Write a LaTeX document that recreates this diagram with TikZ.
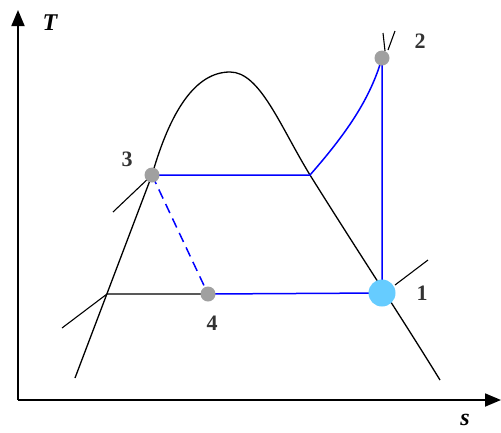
\documentclass[tikz,border=0pt]{standalone}
\usepackage{fontspec}
\setmainfont{Liberation Serif}
\usetikzlibrary{arrows.meta}
\definecolor{cycleblue}{HTML}{0000FF}
\definecolor{stategray}{HTML}{A0A0A0}
\definecolor{stateblue}{HTML}{66CCFF}
\definecolor{labelgray}{HTML}{333333}

\tikzset{
  axis/.style={line width=1.8pt,-{Triangle[length=16pt,width=13pt]}},
  satline/.style={line width=1.3pt},
  isobar/.style={line width=1.1pt},
  process/.style={draw=cycleblue,line width=1.5pt},
  statept/.style={circle,fill=stategray,inner sep=0pt,minimum size=15pt},
  statelbl/.style={text=labelgray,font=\fontsize{22}{22}\selectfont\bfseries,inner sep=0pt},
  axislbl/.style={font=\fontsize{24}{24}\selectfont\bfseries\itshape,inner sep=0pt},
}

\begin{document}
\begin{tikzpicture}[x=1pt,y=-1pt]
\useasboundingbox (0,0) rectangle (501,432);
% axes
\coordinate (O) at (18,400);
\coordinate (Ttip) at (18,10);
\coordinate (stip) at (501,400);
\draw[axis] (O) -- (Ttip);
\draw[axis] (O) -- (stip);
\node[axislbl] (Tlbl) at (50,23) {T};
\node[axislbl,anchor=base] (slbl) at (465,425) {s};

% state points
\coordinate (p1) at (382,293);
\coordinate (p2) at (382,58);
\coordinate (p3) at (152,175);
\coordinate (p4) at (208,294);
\coordinate (g3) at (310,175);
\coordinate (f4) at (107,294);

% saturation dome
\draw[satline] (75,378) -- (p3)
  .. controls (170,112) and (195,72) .. (230,72)
  .. controls (260,72) and (280,126) .. (g3)
  .. controls (360,255) and (400,315) .. (440,380);

% isobars
\draw[isobar] (113,212) -- (p3);
\draw[isobar] (62,328) -- (f4) -- (p4);
\draw[isobar] (395,285) -- (428,260);
\draw[isobar] (383,33) -- (385,51);
\draw[isobar] (395,31) -- (388,50);

% cycle
\draw[process] (p3) -- (g3) .. controls (345,135) and (370,100) .. (p2) -- (p1);
\draw[process] (p4) -- (p1);
\draw[process,dash pattern=on 10pt off 6pt] (p3) -- (p4);

\node[statept] (s2) at (p2) {};
\node[statept] (s3) at (p3) {};
\node[statept] (s4) at (p4) {};
\node[statept,fill=stateblue,minimum size=27pt] (s1) at (p1) {};

\node[statelbl] (l1) at (422,293) {1};
\node[statelbl] (l2) at (420,41) {2};
\node[statelbl] (l3) at (127,159) {3};
\node[statelbl] (l4) at (212,323) {4};
\end{tikzpicture}
\end{document}
